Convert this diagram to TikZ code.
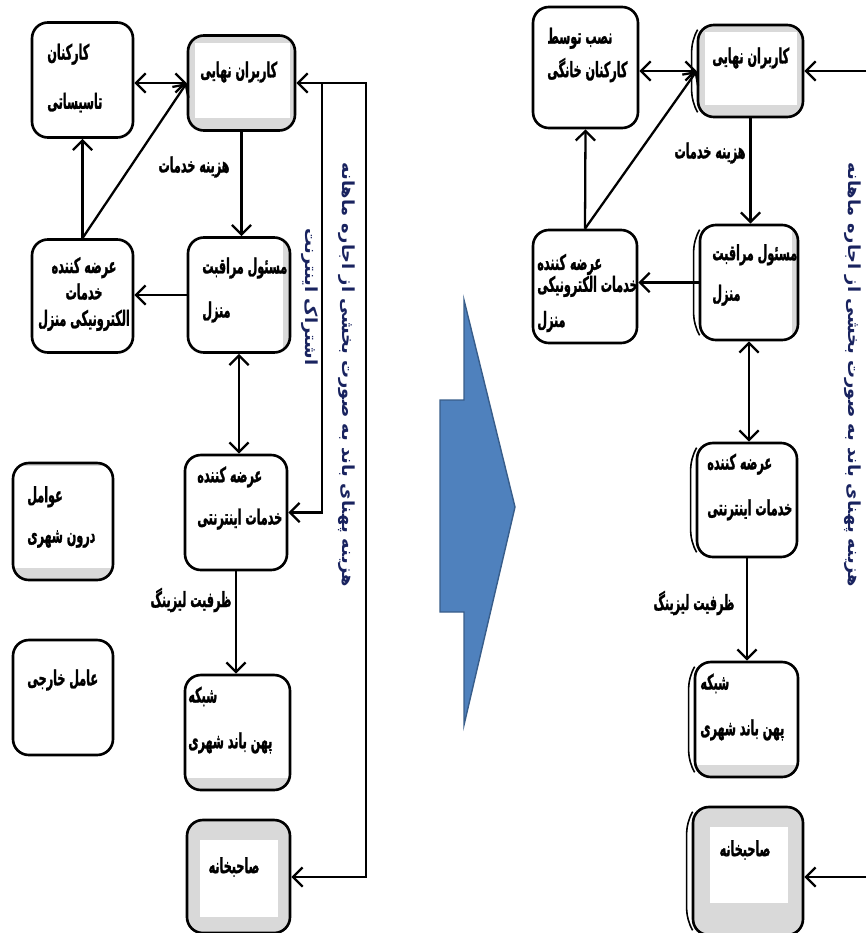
\documentclass[tikz,border=0pt]{standalone}
\usepackage{fontspec}
\usepackage{tikz}
\usetikzlibrary{arrows.meta,calc}
\TeXXeTstate=1
\newfontfamily\farsifont[Script=Arabic,FakeStretch=0.53,BoldFeatures={FakeBold=1.2}]{DejaVu Sans}
\newfontfamily\notefont[Script=Arabic,FakeStretch=1.07]{DejaVu Sans}
\newcommand{\rtltext}[1]{\beginR#1\endR}
\definecolor{panelgrey}{RGB}{217,217,217}
\definecolor{arrowblue}{RGB}{79,129,189}
\definecolor{arrowedge}{RGB}{56,93,138}
\definecolor{notenavy}{RGB}{25,35,95}

\begin{document}
\begin{tikzpicture}[x=0.02cm,y=-0.02cm,
    box/.style={draw,line width=1.5pt,rounded corners=9pt,fill=white,inner sep=0pt},
    panel/.style n args={4}{box,fill=panelgrey,path picture={\fill[white,sharp corners]
        ([xshift=#1,yshift=-#2]path picture bounding box.north west) rectangle
        ([xshift=-#3,yshift=#4]path picture bounding box.south east);}},
    lbl/.style={font=\farsifont\bfseries\fontsize{12}{14}\selectfont,inner sep=0pt},
    note/.style={font=\notefont\bfseries\fontsize{9.5}{11}\selectfont,inner sep=0pt,text=notenavy,rotate=-90},
    arr/.style={line width=1.3pt,-{Straight Barb[length=5.5pt,width=11pt]}},
    darr/.style={line width=1.3pt,{Straight Barb[length=5.5pt,width=11pt]}-{Straight Barb[length=5.5pt,width=11pt]}},
    bracket/.style={line width=0.9pt,rounded corners=6pt}]
  \useasboundingbox (0,0) rectangle (866,933);

  % left diagram: boxes
  \node[box,minimum width=2.02cm,minimum height=2.3cm] (staff) at (82.5,80) {};
  \node[panel={4pt}{4pt}{3pt}{7pt},minimum width=2.14cm,minimum height=1.9cm] (users) at (241.5,83) {};
  \node[panel={0pt}{0pt}{4pt}{0pt},minimum width=2.04cm,minimum height=2.3cm] (homecare) at (239,295) {};
  \node[box,minimum width=2.02cm,minimum height=2.26cm] (eserv) at (82.5,296) {};
  \node[box,minimum width=2.04cm,minimum height=2.3cm] (isp) at (236,512.5) {};
  \node[panel={0pt}{1.5pt}{0pt}{7pt},minimum width=2.0cm,minimum height=2.34cm] (urban) at (63,521.5) {};
  \node[box,minimum width=2.0cm,minimum height=2.3cm] (external) at (63,697.5) {};
  \node[panel={0pt}{0pt}{0pt}{7pt},minimum width=2.1cm,minimum height=2.3cm] (network) at (237.5,732.5) {};
  \node[panel={7.4pt}{11.4pt}{6.8pt}{9pt},minimum width=2.06cm,minimum height=2.26cm] (landlord) at (238.5,876.5) {};

  % left diagram: texts
  \node[lbl,align=left,anchor=west] (staff-t) at (47,78) {\rtltext{کارکنان}\\[14pt]\rtltext{تاسیساتی}};
  \node[lbl,anchor=west] (users-t) at (200,72) {\rtltext{کاربران نهایی}};
  \node[lbl] (cost-t) at (194,167) {\rtltext{هزینه خدمات}};
  \node[lbl,align=left,anchor=west] (homecare-t) at (202,290) {\rtltext{مسئول مراقبت}\\[11pt]\rtltext{منزل}};
  \node[lbl,align=center] (eserv-t) at (84,294) {\rtltext{عرضه کننده}\\[1pt]\rtltext{خدمات}\\[1pt]\rtltext{الکترونیکی  منزل}};
  \node[lbl,align=left,anchor=west] (isp-t) at (197,498) {\rtltext{عرضه کننده}\\[10pt]\rtltext{خدمات اینترنتی}};
  \node[lbl,align=left,anchor=west] (urban-t) at (27,517) {\rtltext{عوامل}\\[9pt]\rtltext{درون شهری}};
  \node[lbl,anchor=west] (external-t) at (27,680) {\rtltext{عامل خارجی}};
  \node[lbl] (lease-t) at (191,600) {\rtltext{ظرفیت لیزینگ}};
  \node[lbl,align=left,anchor=west] (network-t) at (188,720) {\rtltext{شبکه}\\[12pt]\rtltext{پهن باند شهری}};
  \node[lbl] (landlord-t) at (234,867) {\rtltext{صاحبخانه}};
  \node[note] (rent-note) at (347,375) {\rtltext{هزینه پهنای باند به صورت بخشی از اجاره ماهانه}};
  \node[note] (sub-note) at (310,297) {\rtltext{اشتراک اینترنت}};

  % left diagram: connectors
  \coordinate (rent-top) at (366,83);
  \coordinate (rent-bot) at (366,877);
  \coordinate (sub-top) at (322,83);
  \draw[darr] (users.west -| staff.east) -- (users.west);
  \draw[arr] (eserv.north) -- (staff.south);
  \draw[arr] (eserv.north) -- (users.west);
  \draw[arr] (users.south) -- (users.south |- homecare.north);
  \draw[arr] (homecare.west) -- (homecare.west -| eserv.east);
  \draw[darr] (homecare.south) -- (homecare.south |- isp.north);
  \draw[arr] (isp.south) -- (isp.south |- network.north);
  \draw[darr] (users.east) -- (rent-top) -- (rent-bot) -- (rent-bot -| landlord.east);
  \draw[arr] (sub-top) |- (isp.east);

  % transition arrow
  \filldraw[fill=arrowblue,draw=arrowedge,line width=0.8pt] (440,400) -- (464,400) -- (464,300)
    -- (515,507) -- (464,725) -- (464,612) -- (440,612) -- cycle;

  % right diagram: boxes
  \node[box,minimum width=2.1cm,minimum height=2.42cm] (rinstall) at (585.5,67.5) {};
  \node[panel={4pt}{4pt}{3.4pt}{7pt},minimum width=2.1cm,minimum height=1.84cm] (rusers) at (750.5,71) {};
  \node[panel={0pt}{0pt}{3.5pt}{0pt},minimum width=1.96cm,minimum height=2.3cm] (rhomecare) at (749,282.5) {};
  \node[box,minimum width=2.08cm,minimum height=2.26cm] (reserv) at (585,286.5) {};
  \node[box,minimum width=2.0cm,minimum height=2.28cm] (risp) at (747,500) {};
  \node[panel={0pt}{0pt}{0pt}{7pt},minimum width=2.06cm,minimum height=2.3cm] (rnetwork) at (746.5,719.5) {};
  \node[panel={9.7pt}{11.4pt}{8.5pt}{18pt},minimum width=2.2cm,minimum height=2.56cm] (rlandlord) at (748,871) {};
  \foreach \n in {rusers,rhomecare,risp,rnetwork,rlandlord}
    \draw[bracket] ($(\n.north west)+(1,6)$) -- ($(\n.north west)+(-5,16)$)
      -- ($(\n.south west)+(-5,-16)$) -- ($(\n.south west)+(1,-6)$);

  % right diagram: texts
  \node[lbl,align=left,anchor=west] (rinstall-t) at (547,55) {\rtltext{نصب توسط}\\[5pt]\rtltext{کارکنان خانگی}};
  \node[lbl,anchor=west] (rusers-t) at (712,58) {\rtltext{کاربران نهایی}};
  \node[lbl] (rcost-t) at (710,153) {\rtltext{هزینه خدمات}};
  \node[lbl,align=left,anchor=west] (rhomecare-t) at (712,275) {\rtltext{مسئول مراقبت}\\[9pt]\rtltext{منزل}};
  \node[lbl,align=left,anchor=west] (reserv-t) at (537,293) {\rtltext{عرضه کننده}\\[-1.5pt]\rtltext{خدمات  الکترونیکی}\\[6pt]\rtltext{منزل}};
  \node[lbl,align=left,anchor=west] (risp-t) at (707,487) {\rtltext{عرضه کننده}\\[12pt]\rtltext{خدمات اینترنتی}};
  \node[lbl] (rlease-t) at (694,603) {\rtltext{ظرفیت لیزینگ}};
  \node[lbl,align=left,anchor=west] (rnetwork-t) at (700,707) {\rtltext{شبکه}\\[12pt]\rtltext{پهن باند شهری}};
  \node[lbl] (rlandlord-t) at (745,850) {\rtltext{صاحبخانه}};
  \node[note] (rrent-note) at (853,375) {\rtltext{هزینه پهنای باند به صورت بخشی از اجاره ماهانه}};

  % right diagram: connectors
  \coordinate (edge-top) at (866,71);
  \coordinate (edge-bot) at (866,877);
  \draw[darr] (rusers.west -| rinstall.east) -- (rusers.west);
  \draw[arr] (reserv.north) -- (rinstall.south);
  \draw[arr] (reserv.north) -- (rusers.west);
  \draw[arr] (rusers.south) -- (rusers.south |- rhomecare.north);
  \draw[arr] (rhomecare.west) -- (rhomecare.west -| reserv.east);
  \draw[darr] (rhomecare.south) -- (rhomecare.south |- risp.north);
  \draw[arr] (risp.south) -- (risp.south |- rnetwork.north);
  \draw[arr] (edge-top) -- (rusers.east);
  \draw[arr] (edge-bot) -- (edge-bot -| rlandlord.east);
\end{tikzpicture}
\end{document}
